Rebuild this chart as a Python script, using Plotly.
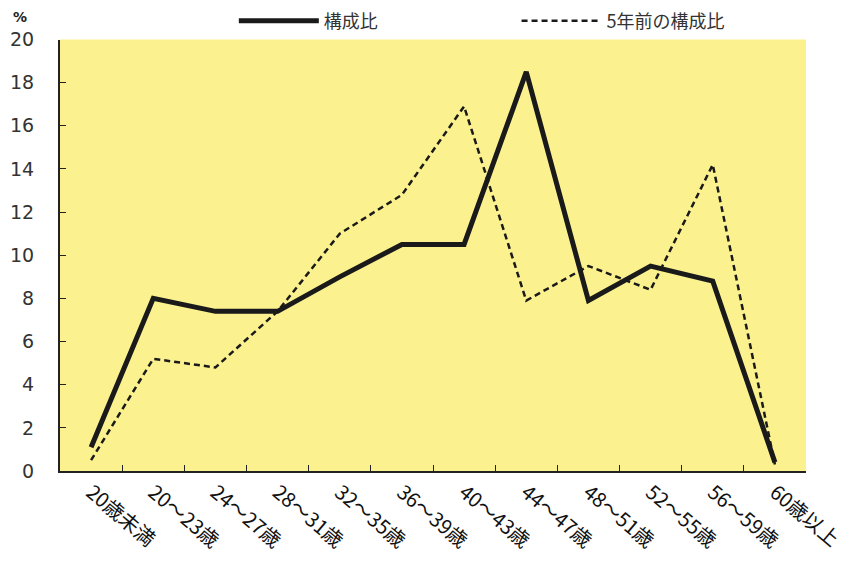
import plotly.graph_objects as go

categories = ["20歳未満", "20～23歳", "24～27歳", "28～31歳", "32～35歳", "36～39歳",
              "40～43歳", "44～47歳", "48～51歳", "52～55歳", "56～59歳", "60歳以上"]
current_share = [1.1, 8.0, 7.4, 7.4, 9.0, 10.5, 10.5, 18.5, 7.9, 9.5, 8.8, 0.4]
share_5yrs_ago = [0.5, 5.2, 4.8, 7.4, 11.0, 12.8, 16.9, 7.9, 9.5, 8.4, 14.2, 0.3]
y_ticks = [0, 2, 4, 6, 8, 10, 12, 14, 16, 18, 20]

JP = "Noto Sans CJK JP"
NUM = "DejaVu Sans"

# page body has an 8px default margin, so the figure is sized to fill the rest
W, H = 849, 555
ML, MR, MT, MB = 52, 51, 30, 92
PW, PH = W - ML - MR, H - MT - MB

fig = go.Figure()
fig.add_trace(go.Scatter(x=categories, y=current_share, mode="lines", name="構成比",
                         line=dict(color="#1a1a1a", width=5), legend="legend"))
fig.add_trace(go.Scatter(x=categories, y=share_5yrs_ago, mode="lines", name="5年前の構成比",
                         line=dict(color="#1a1a1a", width=2.5, dash="6px,4px"),
                         legend="legend2"))

leg_common = dict(orientation="h", xref="container", yref="container",
                  y=1 - 13 / H, xanchor="left", yanchor="middle",
                  font=dict(family=JP, size=18, color="#333"), itemwidth=80,
                  bgcolor="rgba(0,0,0,0)")

fig.update_layout(
    width=W, height=H,
    margin=dict(l=ML, r=MR, t=MT, b=MB),
    paper_bgcolor="white",
    plot_bgcolor="#FBF18E",
    showlegend=True,
    legend=dict(x=0.266, **leg_common),
    legend2=dict(x=0.599, **leg_common),
    xaxis=dict(type="category", categoryorder="array", categoryarray=categories,
               range=[-0.5, 11.5], tickson="boundaries", ticks="inside", ticklen=6,
               tickcolor="#222", showline=True, linecolor="#222", linewidth=2,
               showgrid=False, tickangle=40, automargin=False,
               tickfont=dict(family=JP, size=20, color="#111")),
    yaxis=dict(range=[0, 20], tickvals=y_ticks, ticks="inside", ticklen=6,
               tickcolor="#222", showline=True, linecolor="#222", linewidth=2,
               showgrid=False, zeroline=False, ticklabelstandoff=20, automargin=False,
               tickfont=dict(family=NUM, size=19, color="#333")),
    annotations=[dict(text="<b>%</b>", x=-(ML - 12) / PW, y=1 + (MT - 7) / PH,
                      xref="paper", yref="paper",
                      showarrow=False, xanchor="center", yanchor="middle",
                      font=dict(family=NUM, size=14, color="#222"))],
)

fig.write_html("out.html")
